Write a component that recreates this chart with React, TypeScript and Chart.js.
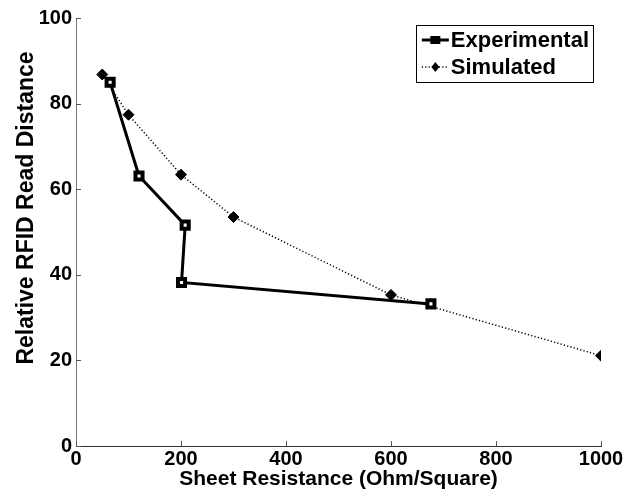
import React, { useEffect, useRef } from "react";
import { Chart, registerables } from "chart.js";

Chart.register(...registerables);

const expLabel = "Experimental";
const expX = [65, 120, 208, 201, 676];
const expY = [85.0, 63.1, 51.6, 38.2, 33.2];

const simLabel = "Simulated";
const simX = [50, 100, 200, 300, 600, 1000];
const simY = [86.8, 77.4, 63.4, 53.5, 35.3, 21.1];

const xTicks = [0, 200, 400, 600, 800, 1000];
const yTicks = [0, 20, 40, 60, 80, 100];

const xTitle = "Sheet Resistance (Ohm/Square)";
const yTitle = "Relative RFID Read Distance";

const FONT = "'Liberation Sans', Arial, Helvetica, sans-serif";

const extrasPlugin = {
  id: "extras",
  afterDraw(chart: any) {
    const ctx = chart.ctx as CanvasRenderingContext2D;
    const xs = chart.scales.x;
    const ys = chart.scales.y;
    const area = chart.chartArea;
    ctx.save();
    // inward ticks
    ctx.strokeStyle = "#555";
    ctx.lineWidth = 1;
    ctx.beginPath();
    xTicks.forEach((v) => {
      const px = Math.round(xs.getPixelForValue(v)) + 0.5;
      ctx.moveTo(px, area.bottom);
      ctx.lineTo(px, area.bottom - 5);
    });
    yTicks.forEach((v) => {
      const py = Math.round(ys.getPixelForValue(v)) + 0.5;
      ctx.moveTo(area.left, py);
      ctx.lineTo(area.left + 5, py);
    });
    ctx.stroke();

    // tick labels
    ctx.fillStyle = "#000";
    ctx.font = `bold 20px ${FONT}`;
    ctx.textAlign = "center";
    ctx.textBaseline = "middle";
    xTicks.forEach((v) => {
      ctx.fillText(String(v), xs.getPixelForValue(v), area.bottom + 13);
    });
    ctx.textAlign = "right";
    yTicks.forEach((v) => {
      ctx.fillText(String(v), area.left - 4, ys.getPixelForValue(v));
    });

    // axis titles
    ctx.textAlign = "center";
    ctx.font = `bold 21px ${FONT}`;
    ctx.fillText(xTitle, (area.left + area.right) / 2, 479);
    ctx.save();
    ctx.translate(27, 208);
    ctx.rotate(-Math.PI / 2);
    ctx.font = `bold 23px ${FONT}`;
    ctx.fillText(yTitle, 0, 0);
    ctx.restore();

    // legend
    const ds = chart.data.datasets;
    ctx.font = `bold 22px ${FONT}`;
    const textW = Math.max(...ds.map((d: any) => ctx.measureText(d.label).width));
    const sampleW = 27;
    const boxW = 6 + sampleW + 2 + textW + 4;
    const boxH = 57;
    const right = area.right - 8;
    const left = right - boxW;
    const top = area.top + 7;
    ctx.fillStyle = "#fff";
    ctx.fillRect(left, top, boxW, boxH);
    ctx.strokeStyle = "#000";
    ctx.lineWidth = 1;
    ctx.strokeRect(Math.round(left) + 0.5, Math.round(top) + 0.5, Math.round(boxW), boxH);
    ds.forEach((d: any, i: number) => {
      const cy = top + 15 + i * 27;
      const x0 = left + 6;
      const x1 = x0 + sampleW;
      ctx.save();
      ctx.strokeStyle = "#000";
      ctx.lineWidth = d.borderWidth;
      ctx.setLineDash(d.borderDash || []);
      ctx.beginPath();
      ctx.moveTo(x0, cy);
      ctx.lineTo(x1, cy);
      ctx.stroke();
      ctx.restore();
      const cx = (x0 + x1) / 2;
      ctx.save();
      ctx.fillStyle = "#000";
      if (d.pointStyle === "rect") {
        ctx.fillRect(cx - 5, cy - 4, 10, 8);
      } else {
        ctx.beginPath();
        ctx.moveTo(cx, cy - 5);
        ctx.lineTo(cx + 4, cy);
        ctx.lineTo(cx, cy + 5);
        ctx.lineTo(cx - 4, cy);
        ctx.closePath();
        ctx.fill();
      }
      ctx.restore();
      ctx.fillStyle = "#000";
      ctx.textAlign = "left";
      ctx.textBaseline = "middle";
      ctx.fillText(d.label, x1 + 2, cy + 1);
    });
    ctx.restore();
  },
};

export default function App() {
  const ref = useRef<HTMLCanvasElement | null>(null);
  useEffect(() => {
    if (!ref.current) return;
    const chart = new Chart(ref.current, {
      type: "scatter",
      data: {
        datasets: [
          {
            label: expLabel,
            data: expX.map((x, i) => ({ x, y: expY[i] })),
            showLine: true,
            borderColor: "#000",
            borderWidth: 3,
            pointStyle: "rect",
            pointRadius: 5,
            pointBorderWidth: 4,
            pointBackgroundColor: "#fff",
            pointBorderColor: "#000",
            tension: 0,
          },
          {
            label: simLabel,
            data: simX.map((x, i) => ({ x, y: simY[i] })),
            showLine: true,
            borderColor: "#000",
            borderWidth: 1.5,
            borderDash: [1.2, 2.2],
            pointStyle: "rectRot",
            pointRadius: 5.5,
            pointBorderWidth: 1,
            pointBackgroundColor: "#000",
            pointBorderColor: "#000",
            tension: 0,
          },
        ],
      },
      options: {
        responsive: false,
        animation: false,
        events: [],
        layout: { padding: { top: 18, right: 24, left: 0, bottom: 0 } },
        plugins: { legend: { display: false }, tooltip: { enabled: false } },
        scales: {
          x: {
            type: "linear",
            min: 0,
            max: 1000,
            afterBuildTicks: (s: any) => {
              s.ticks = xTicks.map((v) => ({ value: v }));
            },
            afterFit: (s: any) => {
              s.height = 49;
            },
            grid: { display: true, drawOnChartArea: false, drawTicks: false, tickLength: 0 },
            border: { display: true, color: "#333", width: 1 },
            ticks: { display: false },
          },
          y: {
            type: "linear",
            min: 0,
            max: 100,
            afterBuildTicks: (s: any) => {
              s.ticks = yTicks.map((v) => ({ value: v }));
            },
            afterFit: (s: any) => {
              s.width = 76;
            },
            grid: { display: true, drawOnChartArea: false, drawTicks: false, tickLength: 0 },
            border: { display: true, color: "#777", width: 1 },
            ticks: { display: false },
          },
        },
      },
      plugins: [extrasPlugin],
    });
    return () => chart.destroy();
  }, []);
  return (
    <div style={{ position: "fixed", left: 0, top: 0, width: 625, height: 495, background: "#fff" }}>
      <canvas ref={ref} width={625} height={495} style={{ width: 625, height: 495, display: "block" }} />
    </div>
  );
}
